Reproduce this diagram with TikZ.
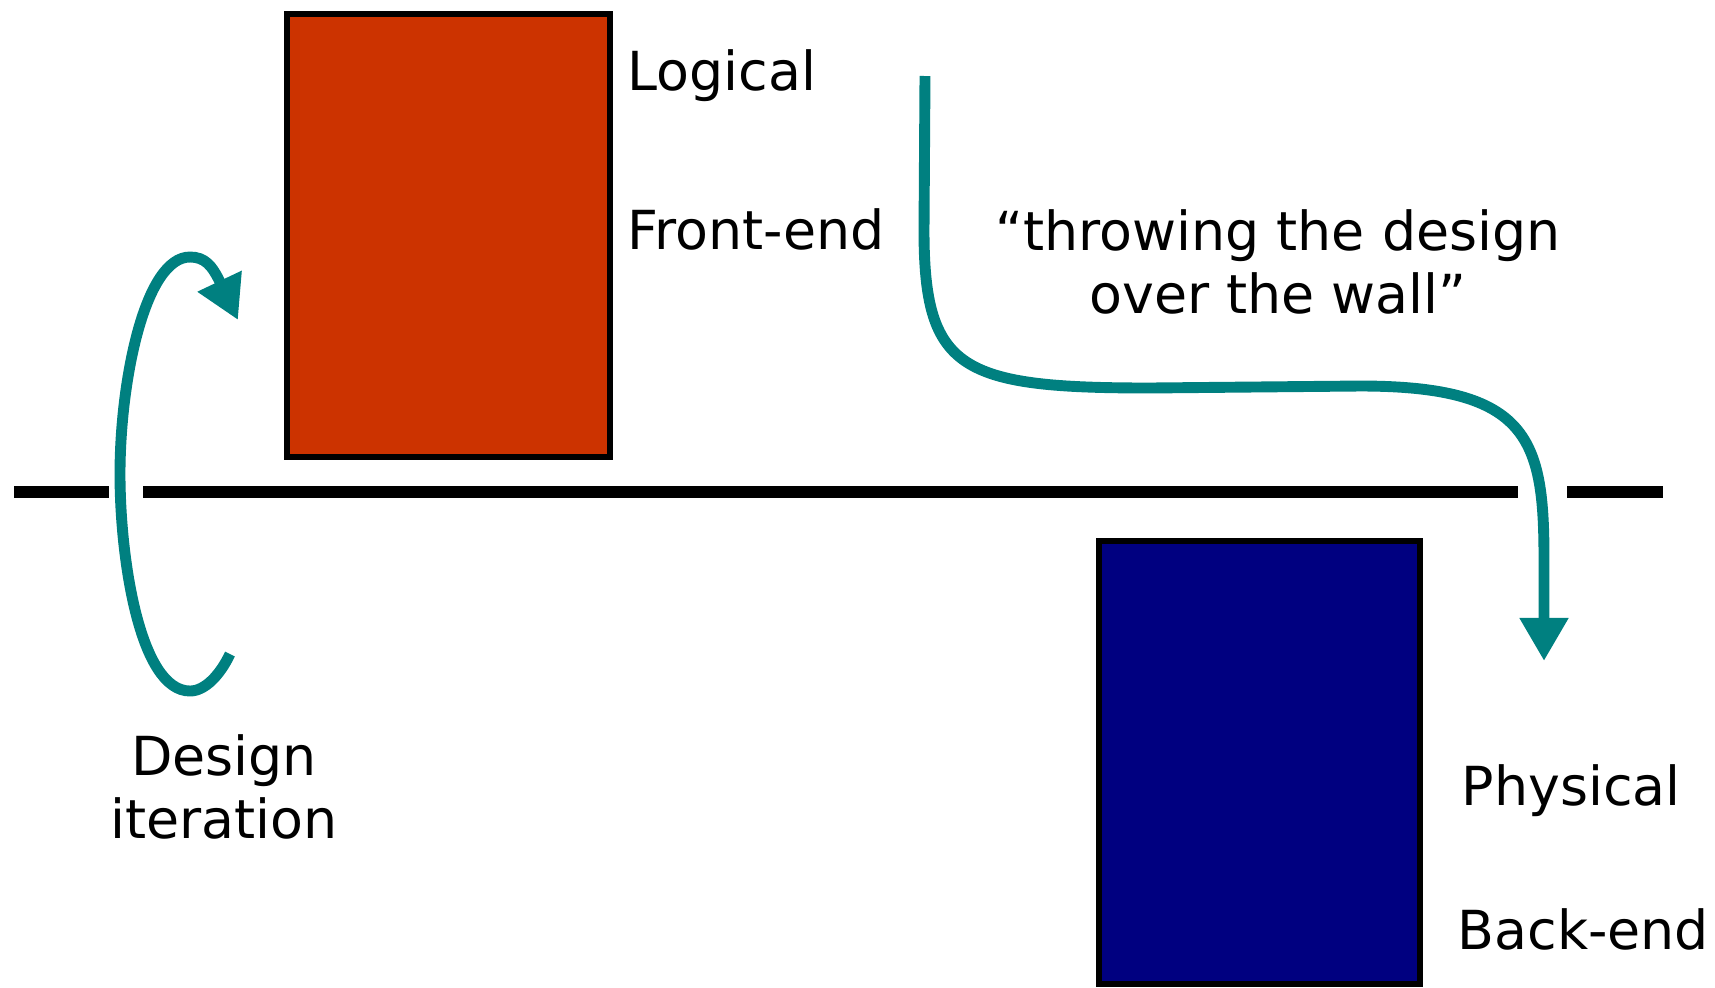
\documentclass[tikz,border=0pt]{standalone}
\usepackage{fontspec}
\setmainfont{DejaVu Sans}
\usetikzlibrary{arrows.meta}

\definecolor{frontred}{RGB}{204,51,0}
\definecolor{backblue}{RGB}{0,0,128}
\definecolor{flowteal}{RGB}{0,128,128}

\tikzset{
	box/.style={draw=black, line width=1.7pt},
	wall/.style={line width=3.4pt},
	flow/.style={draw=flowteal, line width=3.1pt, -{Triangle[length=4.3mm, width=4.6mm]}},
	lbl/.style={font=\fontsize{15.3}{17.8}\selectfont, inner sep=0pt},
}

\begin{document}
\begin{tikzpicture}[x=0.01cm, y=-0.01cm]
	\useasboundingbox (0,0) rectangle (1715,987);
	
	% front-end block
	\draw[box, fill=frontred] (287,14) rectangle (610,457);
	\node[lbl, anchor=base west] (logical) at (627,90) {Logical};
	\node[lbl, anchor=base west] (frontend) at (627,249) {Front-end};
	
	% back-end block
	\draw[box, fill=backblue] (1099,541) rectangle (1420,984);
	\node[lbl, anchor=base west] (physical) at (1461,805) {Physical};
	\node[lbl, anchor=base west] (backend) at (1457,949) {Back-end};
	
	% the wall
	\draw[wall] (14,492) -- (109,492);
	\draw[wall] (143,492) -- (1518,492);
	\draw[wall] (1567,492) -- (1663,492);
	
	% design iteration loop
	\coordinate (loop start) at (230,654);
	\coordinate (loop end) at (238,320);
	\draw[flow] (loop start) .. controls (220,675) and (205,691) .. (190,691)
		.. controls (140,691) and (120,560) .. (120,474)
		.. controls (120,380) and (145,257) .. (190,257)
		.. controls (205,257) and (212,266) .. (219,280) -- (loop end);
	\node[lbl, align=center] (iter) at (224,787) {Design\\iteration};
	
	% over the wall
	\coordinate (throw start) at (925,76);
	\coordinate (throw end) at (1544,661);
	\draw[flow] (throw start) -- (924,230)
		.. controls (924,370) and (960,388) .. (1150,388) -- (1360,386)
		.. controls (1530,386) and (1544,440) .. (1544,560) -- (throw end);
	\node[lbl, align=center] (throw) at (1278,262) {“throwing the design\\over the wall”};
	
\end{tikzpicture}
\end{document}
